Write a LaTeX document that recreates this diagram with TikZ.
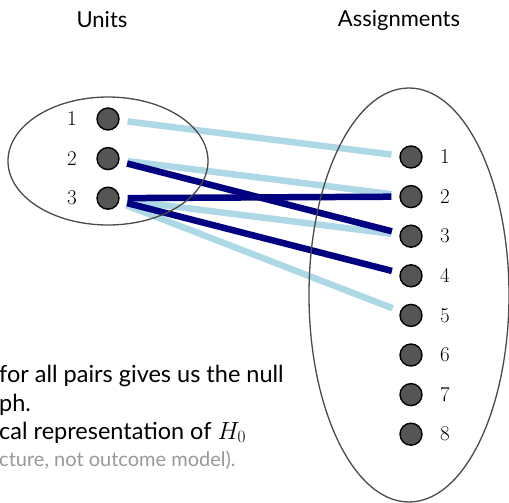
\documentclass[tikz,border=0pt]{standalone}
\usepackage{fontspec}
\newfontfamily\slidefont{Lato}
\usetikzlibrary{calc}
\definecolor{litblue}{HTML}{ADD8E6}
\definecolor{dkblue}{HTML}{000080}
\definecolor{dotgray}{HTML}{555555}
\definecolor{rimgray}{HTML}{4A4A4A}
\definecolor{txtgray}{HTML}{999999}

\begin{document}
\begin{tikzpicture}[x=1pt,y=-1pt,
  dot/.style={circle,draw=black,line width=1.4pt,fill=dotgray,minimum size=22pt,inner sep=0pt},
  num/.style={font=\fontsize{21}{25}\selectfont},
  lite/.style={draw=litblue,line width=6.5pt,shorten <=8pt,shorten >=8pt},
  dark/.style={draw=dkblue,line width=6.5pt,shorten <=8pt,shorten >=8pt},
  rim/.style={draw=rimgray,line width=1.3pt}]
\useasboundingbox (0,0) rectangle (509,503);
\clip (0,0) rectangle (509,503);
\def\s{39.6}

% headings
\node (units) at (102,20) {\slidefont\fontsize{22}{26}\selectfont Units};
\node (assign) at (399,20) {\slidefont\fontsize{22}{26}\selectfont Assignments};

% units and assignments
\foreach \i in {1,2,3} {
  \node[dot] (u\i) at (108, {119+\s*(\i-1)}) {};
  \node[num] at ($(u\i) + (-36, 0)$) {\i};
}
\foreach \i in {1,...,8} {
  \node[dot] (a\i) at (411, {157+\s*(\i-1)}) {};
  \node[num] at ($(a\i) + (34, 0)$) {\i};
}

% edges
\draw[lite] (u1) -- (a1);
\draw[lite] (u2) -- (a2);
\draw[lite] (u3) -- (a3);
\draw[lite] (u3) -- (a5);
\draw[dark] (u2) -- (a3);
\draw[dark] (u3) -- (a2);
\draw[dark] (u3) -- (a4);

% the two sets
\draw[rim] (108,161) ellipse [x radius=100, y radius=64];
\draw[rim] (409,295) ellipse [x radius=100, y radius=207];

% text
\node[anchor=base west,inner sep=0pt] (t1) at (-1,382)
  {\slidefont\fontsize{23.5}{28}\selectfont for all pairs gives us the null};
\node[anchor=base west,inner sep=0pt] (t2) at (-1,411)
  {\slidefont\fontsize{23.5}{28}\selectfont ph.};
\node[anchor=base west,inner sep=0pt] (t3) at (-1,439)
  {\slidefont\fontsize{23.5}{28}\selectfont cal representation of $H_0$};
\node[anchor=base west,inner sep=0pt,text=txtgray] (t4) at (-1,466)
  {\slidefont\fontsize{20}{24}\selectfont cture, not outcome model).};
\end{tikzpicture}
\end{document}
